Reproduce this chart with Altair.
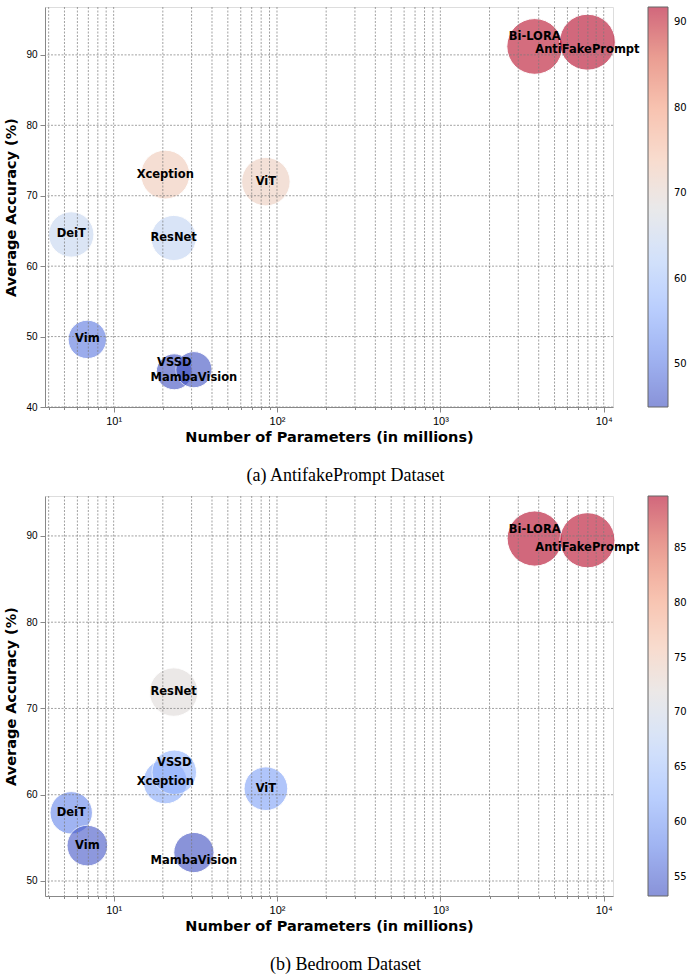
import altair as alt
import pandas as pd

# ---- data ----
models = ["DeiT", "Vim", "Xception", "ResNet", "VSSD", "MambaVision", "ViT", "Bi-LORA", "AntiFakePrompt"]
params_m = [5.5, 6.9, 20.7, 23.3, 23.5, 31.0, 85.5, 3780, 7950]
acc_antifake = [64.5, 49.6, 73.0, 64.0, 45.0, 45.3, 72.0, 91.2, 91.8]
acc_bedroom = [57.9, 54.1, 61.5, 71.9, 62.6, 53.3, 60.7, 89.7, 89.5]

labels_above = ["VSSD", "Bi-LORA"]
labels_below = ["MambaVision", "AntiFakePrompt"]

x_tick_values = [4, 5, 6, 7, 8, 9,
                 10, 20, 30, 40, 50, 60, 70, 80, 90,
                 100, 200, 300, 400, 500, 600, 700, 800, 900,
                 1000, 2000, 3000, 4000, 5000, 6000, 7000, 8000, 9000, 10000]

COOLWARM = ['#3b4cc0', '#6282ea', '#8db0fe', '#b8d0f9', '#dddcdc',
            '#f5c4ac', '#f49a7b', '#dc5d4a', '#b40426']

FONT = "DejaVu Sans"
is_major = "abs(log(datum.value)/LN10 - round(log(datum.value)/LN10)) < 1e-6"
x_label_expr = ("datum.value == 10 ? '10¹' : datum.value == 100 ? '10²' : "
                "datum.value == 1000 ? '10³' : datum.value == 10000 ? '10⁴' : ''")

GRID = dict(color="#7a7a7a", strokeWidth=0.7, strokeDash=[2, 1.5])


def panel(acc, ydomain, yvalues, cvalues, caption):
    df = pd.DataFrame({"model": models, "params": params_m, "acc": acc})
    xscale = alt.Scale(type="log", domain=[3.8, 11400], nice=False)
    yscale = alt.Scale(domain=ydomain, nice=False, zero=False)
    x = alt.X("params:Q", scale=xscale,
              axis=alt.Axis(values=x_tick_values, labelExpr=x_label_expr,
                            title="Number of Parameters (in millions)",
                            grid=False, zindex=1,
                            tickSize={"condition": {"test": is_major, "value": 5}, "value": 2.5},
                            labelFontSize=11, labelPadding=3,
                            titleFont=FONT, titleFontSize=14.5, titlePadding=4))
    y = alt.Y("acc:Q", scale=yscale,
              axis=alt.Axis(values=yvalues, title="Average Accuracy (%)",
                            grid=False, zindex=1, tickSize=5, labelPadding=3,
                            labelFontSize=10, titleFont=FONT, titleFontSize=14.5,
                            titlePadding=7))
    color = alt.Color("acc:Q",
                      scale=alt.Scale(domain=[min(acc), max(acc)], range=COOLWARM,
                                      interpolate="rgb"),
                      legend=alt.Legend(title=None, values=cvalues, orient="right",
                                        offset=35, padding=0, gradientLength=400,
                                        gradientThickness=20, gradientOpacity=0.6,
                                        gradientStrokeColor="black", gradientStrokeWidth=1,
                                        labelFontSize=10, labelFont=FONT, labelColor="black",
                                        labelOffset=6))
    size = alt.Size("acc:Q", scale=alt.Scale(domain=[40, 100], range=[1100, 3450], zero=False),
                    legend=None)
    base = alt.Chart(df)
    points = base.mark_circle(opacity=0.6, stroke="white", strokeWidth=1).encode(
        x=x, y=y, color=color, size=size)

    xgrid = alt.Chart(pd.DataFrame({"v": x_tick_values})).mark_rule(**GRID).encode(
        x=alt.X("v:Q", scale=xscale))
    ygrid = alt.Chart(pd.DataFrame({"v": yvalues})).mark_rule(**GRID).encode(
        y=alt.Y("v:Q", scale=yscale))

    txt = dict(font=FONT, fontSize=11.5, fontWeight="bold", color="black",
               align="center", baseline="middle")
    t_mid = base.transform_filter(
        f"indexof({labels_above + labels_below}, datum.model) < 0"
    ).mark_text(**txt).encode(x="params:Q", y="acc:Q", text="model:N")
    t_up = base.transform_filter(
        f"indexof({labels_above}, datum.model) >= 0"
    ).mark_text(dy=-9, **txt).encode(x="params:Q", y="acc:Q", text="model:N")
    t_down = base.transform_filter(
        f"indexof({labels_below}, datum.model) >= 0"
    ).mark_text(dy=8, **txt).encode(x="params:Q", y="acc:Q", text="model:N")
    return alt.layer(points, xgrid, ygrid, t_mid, t_up, t_down).properties(
        width=568, height=400,
        title=alt.TitleParams(caption, orient="bottom", anchor="middle", frame="bounds",
                              font="Liberation Serif", fontSize=18, fontWeight="normal",
                              color="black", offset=23))


top = panel(acc_antifake, [40, 96.8], [40, 50, 60, 70, 80, 90], [50, 60, 70, 80, 90],
            "(a) AntifakePrompt Dataset")
bottom = panel(acc_bedroom, [48.26, 94.63], [50, 60, 70, 80, 90], [55, 60, 65, 70, 75, 80, 85],
               "(b) Bedroom Dataset")

chart = alt.vconcat(top, bottom, spacing=10).resolve_scale(
    color="independent", y="independent", x="independent", size="independent"
).resolve_legend(color="independent").properties(
    padding={"left": 3, "top": 6, "right": 5, "bottom": 5}
).configure_view(stroke="black", strokeWidth=1).configure_axis(
    domainColor="black", tickColor="black", labelColor="black", titleColor="black",
    labelFont=FONT, titleFont=FONT, titleFontWeight="bold", domainWidth=1
).configure(background="white")

chart.save("out.html", embed_options={"renderer": "svg", "actions": False})
